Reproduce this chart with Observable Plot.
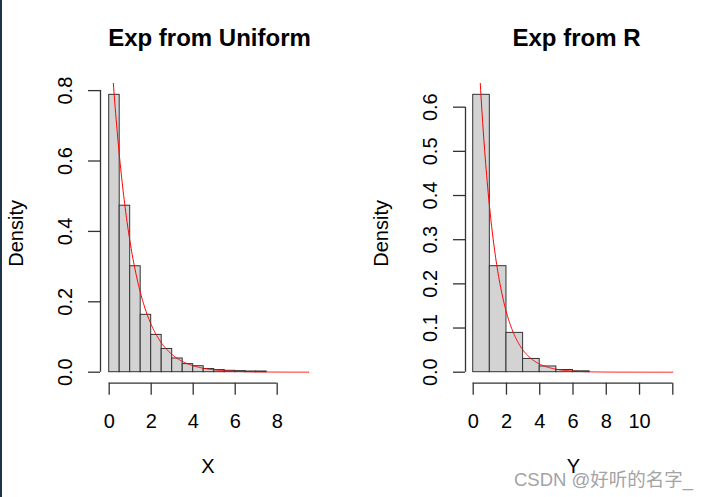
<!DOCTYPE html>
<html>
<head>
<meta charset="utf-8">
<script src="https://cdn.jsdelivr.net/npm/d3@7"></script>
<script src="https://cdn.jsdelivr.net/npm/@observablehq/plot@0.6"></script>
<style>
  html, body { margin: 0; padding: 0; background: #fff; }
  #wrap { position: relative; width: 711px; height: 497px; overflow: hidden; background: #fff;
          font-family: "Liberation Sans", Arial, sans-serif; }
  #edge { position: absolute; left: 0; top: 0; width: 2px; height: 497px; background: #1d3347; }
  .panel { position: absolute; top: 0; }
  #wm { position: absolute; left: 514px; top: 465px; font-size: 18.5px; color: #a3a3a3;
        font-family: "Liberation Sans", "Noto Sans CJK SC", sans-serif; white-space: nowrap; }
</style>
</head>
<body>
<div id="wrap">
  <div id="edge"></div>
  <div id="left" class="panel" style="left:0px"></div>
  <div id="right" class="panel" style="left:355px"></div>
  <div id="wm">CSDN @好听的名字_</div>
</div>
<script>
// ---- data ----
const titleU = "Exp from Uniform";
const titleR = "Exp from R";
const xLabelU = "X";
const xLabelR = "Y";
const yLabel = "Density";

// histogram of X (bin width 0.5)
const breaksU = [0, 0.5, 1, 1.5, 2, 2.5, 3, 3.5, 4, 4.5, 5, 5.5, 6, 6.5, 7, 7.5];
const densU = [0.788, 0.473, 0.301, 0.163, 0.106, 0.066, 0.039, 0.023, 0.017, 0.009, 0.006, 0.004, 0.003, 0.002, 0.002];

// histogram of Y (bin width 1)
const breaksR = [0, 1, 2, 3, 4, 5, 6, 7];
const densR = [0.628, 0.240, 0.089, 0.030, 0.013, 0.005, 0.002];

// axis ticks
const xTicksU = [0, 2, 4, 6, 8];
const xTickLabelsU = ["0", "2", "4", "6", "8"];
const yTicksU = [0, 0.2, 0.4, 0.6, 0.8];
const yTickLabelsU = ["0.0", "0.2", "0.4", "0.6", "0.8"];

const xTicksR = [0, 2, 4, 6, 8, 10, 12];
const xTickLabelsR = ["0", "2", "4", "6", "8", "10", ""];
const yTicksR = [0, 0.1, 0.2, 0.3, 0.4, 0.5, 0.6];
const yTickLabelsR = ["0.0", "0.1", "0.2", "0.3", "0.4", "0.5", "0.6"];

// overlaid density curve: dexp(x, rate)
const rate = 1;
const curveEndU = 9.5;
const curveEndR = 12;

// ---- drawing ----
function panel({width, marginLeft, marginRight, xDomain, yDomain, breaks, dens,
                xTicks, xTickLabels, yTicks, yTickLabels, curveEnd, title, xLabel, titleDx, xLabelDx}) {
  const bins = dens.map((d, i) => ({x1: breaks[i], x2: breaks[i + 1], y: d}));
  const curve = d3.range(0, 401).map(i => {
    const x = curveEnd * i / 400;
    return {x, y: rate * Math.exp(-rate * x)};
  });
  const axisColor = "#333";
  return Plot.plot({
    width, height: 497,
    marginLeft, marginRight, marginTop: 83, marginBottom: 114.3,
    x: {domain: xDomain, axis: null},
    y: {domain: yDomain, axis: null},
    style: {fontFamily: '"Liberation Sans", Arial, sans-serif', background: "transparent", overflow: "visible", color: axisColor},
    marks: [
      Plot.rectY(bins, {x1: "x1", x2: "x2", y1: 0, y2: "y", fill: "#d3d3d3", stroke: "#333", strokeWidth: 1, inset: 0}),
      Plot.line(curve, {x: "x", y: "y", stroke: "red", strokeWidth: 1, clip: true}),
      // axes (R style)
      Plot.axisX({ticks: xTicks, tickSize: 12, tickFormat: () => "", label: null, stroke: axisColor, strokeWidth: 1.3}),
      Plot.ruleY([yDomain[0]], {x1: d3.min(xTicks), x2: d3.max(xTicks), stroke: axisColor, strokeWidth: 1.3}),
      Plot.axisY({ticks: yTicks, tickSize: 12, tickFormat: () => "", label: null, stroke: axisColor, strokeWidth: 1.3}),
      Plot.ruleX([xDomain[0]], {y1: d3.min(yTicks), y2: d3.max(yTicks), stroke: axisColor, strokeWidth: 1.3}),
      Plot.text(xTicks, {x: d => d, text: (d, i) => xTickLabels[i], frameAnchor: "bottom", dy: 44.6,
        lineAnchor: "bottom", textAnchor: "middle", fontSize: 20, fill: "black"}),
      Plot.text(yTicks, {y: d => d, text: (d, i) => yTickLabels[i], frameAnchor: "left", dx: -29,
        lineAnchor: "bottom", textAnchor: "middle", rotate: -90, fontSize: 20, fill: "black"}),
      // titles and labels
      Plot.text([title], {text: d => d, frameAnchor: "top", dy: -38, dx: titleDx, lineAnchor: "bottom",
        textAnchor: "middle", fontSize: 24, fontWeight: "bold", fill: "black"}),
      Plot.text([xLabel], {text: d => d, frameAnchor: "bottom", dy: 90, dx: xLabelDx, lineAnchor: "bottom",
        textAnchor: "middle", fontSize: 20, fill: "black"}),
      Plot.text([yLabel], {text: d => d, frameAnchor: "left", dx: -77.4, lineAnchor: "bottom",
        textAnchor: "middle", rotate: -90, fontSize: 20, fill: "black"})
    ]
  });
}

document.getElementById("left").append(panel({
  width: 355, marginLeft: 100, marginRight: 39,
  xDomain: [-0.414, 9.871], yDomain: [-0.03125, 0.8202],
  breaks: breaksU, dens: densU, xTicks: xTicksU, xTickLabels: xTickLabelsU,
  yTicks: yTicksU, yTickLabels: yTickLabelsU, curveEnd: curveEndU,
  title: titleU, xLabel: xLabelU, titleDx: 1, xLabelDx: -0.5
}));

document.getElementById("right").append(panel({
  width: 356, marginLeft: 110, marginRight: 29,
  xDomain: [-0.463, 12.583], yDomain: [-0.0249, 0.6536],
  breaks: breaksR, dens: densR, xTicks: xTicksR, xTickLabels: xTickLabelsR,
  yTicks: yTicksR, yTickLabels: yTickLabelsR, curveEnd: curveEndR,
  title: titleR, xLabel: xLabelR, titleDx: 2.5, xLabelDx: -0.5
}));
</script>
</body>
</html>
